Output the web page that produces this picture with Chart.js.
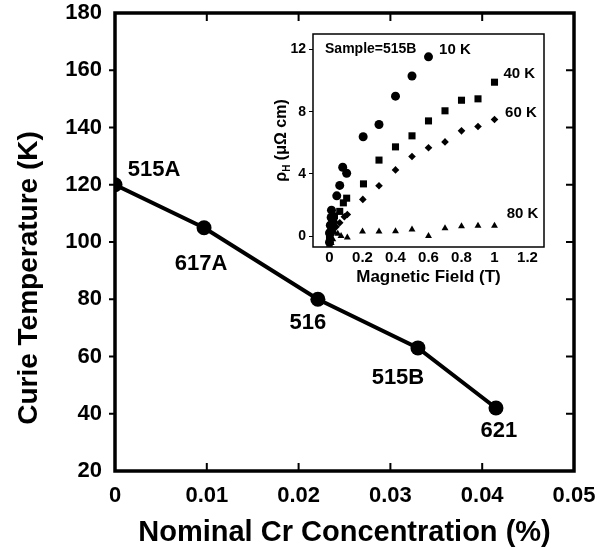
<!DOCTYPE html>
<html>
<head>
<meta charset="utf-8">
<script src="https://cdn.jsdelivr.net/npm/chart.js@4/dist/chart.umd.min.js"></script>
<style>
  body { margin: 0; background: #fff; }
  #wrap { position: relative; width: 610px; height: 550px; }
  #inset { position: absolute; left: 270px; top: 20px; }
</style>
</head>
<body>
<div id="wrap">
  <canvas id="mainChart" width="610" height="550"></canvas>
  <canvas id="inset" width="290" height="275"></canvas>
</div>
<script>
// main plot: Curie temperature vs Cr concentration
var concentration = [0, 0.0097, 0.0221, 0.0330, 0.0415];
var curieTemp = [120, 105, 80, 63, 42];
var sampleNames = ['515A', '617A', '516', '515B', '621'];
var concTicks = [0, 0.01, 0.02, 0.03, 0.04, 0.05];
var tempTicks = [20, 40, 60, 80, 100, 120, 140, 160, 180];

// inset: Hall resistivity of sample 515B vs field
var field10K = [0, 0, 0.005, 0.01, 0.012, 0.02, 0.044, 0.062, 0.08, 0.104, 0.204, 0.30, 0.40, 0.50, 0.60];
var rho10K   = [-0.4, 0.2, 0.7, 1.2, 1.67, 1.0, 2.59, 3.26, 4.43, 4.04, 6.39, 7.18, 9.0, 10.3, 11.53];
var field40K = [0, 0.005, 0.01, 0.02, 0.03, 0.062, 0.084, 0.104, 0.206, 0.30, 0.40, 0.50, 0.60, 0.70, 0.80, 0.90, 1.0];
var rho40K   = [-0.2, 0.2, 0.5, 1.0, 1.3, 1.59, 2.14, 2.44, 3.36, 4.89, 5.74, 6.45, 7.41, 8.06, 8.74, 8.83, 9.9];
var field60K = [0, 0.01, 0.02, 0.03, 0.04, 0.062, 0.09, 0.108, 0.202, 0.30, 0.40, 0.50, 0.60, 0.70, 0.80, 0.90, 1.0];
var rho60K   = [-0.3, 0.1, 0.4, 0.9, 0.6, 0.86, 1.25, 1.39, 2.36, 3.24, 4.26, 5.12, 5.68, 6.06, 6.77, 7.05, 7.5];
var field80K = [0, 0, 0.01, 0.02, 0.03, 0.05, 0.07, 0.108, 0.2, 0.3, 0.4, 0.5, 0.6, 0.7, 0.8, 0.9, 1.0];
var rho80K   = [-0.55, 0.1, -0.45, -0.2, 0.25, 0.15, 0.0, -0.09, 0.30, 0.30, 0.32, 0.43, 0.0, 0.51, 0.64, 0.66, 0.66];
var fieldTicks = [0, 0.2, 0.4, 0.6, 0.8, 1, 1.2];
var rhoTicks = [0, 4, 8, 12];

var FONT = "'Liberation Sans', Arial, Helvetica, sans-serif";
Chart.defaults.color = '#000';
Chart.defaults.font.family = FONT;
Chart.defaults.font.weight = 'bold';

function pairs(xs, ys) {
  return xs.map(function (x, i) { return {x: x, y: ys[i]}; });
}

// frame + tick marks + y title for the main plot
var mainFrame = {
  id: 'mainFrame',
  afterDraw: function (chart) {
    var ctx = chart.ctx, a = chart.chartArea;
    var xs = chart.scales.x, ys = chart.scales.y;
    ctx.save();
    ctx.strokeStyle = '#000';
    ctx.lineWidth = 2;
    ctx.beginPath();
    concTicks.slice(1, -1).forEach(function (v) {
      var px = xs.getPixelForValue(v);
      ctx.moveTo(px, a.bottom); ctx.lineTo(px, a.bottom - 8);
      ctx.moveTo(px, a.top); ctx.lineTo(px, a.top + 8);
    });
    tempTicks.slice(1, -1).forEach(function (v) {
      var py = ys.getPixelForValue(v);
      ctx.moveTo(a.left - 6, py); ctx.lineTo(a.left, py);
      ctx.moveTo(a.right, py); ctx.lineTo(a.right - 8, py);
    });
    ctx.stroke();
    ctx.lineWidth = 3.5;
    ctx.strokeRect(a.left, a.top, a.right - a.left, a.bottom - a.top);

    // y title sits a bit below the middle of the axis, as in the original
    ctx.fillStyle = '#000';
    ctx.font = 'bold 28px ' + FONT;
    ctx.textAlign = 'center';
    ctx.textBaseline = 'middle';
    ctx.translate(29, (a.top + a.bottom) / 2 + 36);
    ctx.rotate(-Math.PI / 2);
    ctx.fillText('Curie Temperature (K)', 0, 0);
    ctx.restore();
  }
};

var labelOffsets = [[39, -15], [-3, 36], [-10, 24], [-20, 30], [3, 23]];
var sampleLabels = {
  id: 'sampleLabels',
  afterDatasetsDraw: function (chart) {
    var ctx = chart.ctx;
    var pts = chart.getDatasetMeta(0).data;
    ctx.save();
    ctx.fillStyle = '#000';
    ctx.font = 'bold 22px ' + FONT;
    ctx.textAlign = 'center';
    ctx.textBaseline = 'middle';
    pts.forEach(function (p, i) {
      ctx.fillText(sampleNames[i], p.x + labelOffsets[i][0], p.y + labelOffsets[i][1]);
    });
    ctx.restore();
  }
};

new Chart(document.getElementById('mainChart'), {
  type: 'scatter',
  data: {
    datasets: [{
      data: pairs(concentration, curieTemp),
      showLine: true,
      borderColor: '#000',
      borderWidth: 4,
      backgroundColor: '#000',
      pointRadius: 7.5,
      pointBorderWidth: 0
    }]
  },
  options: {
    responsive: false,
    animation: false,
    devicePixelRatio: 1,
    layout: {padding: {top: 13, right: 36, left: 0, bottom: 0}},
    plugins: {legend: {display: false}, tooltip: {enabled: false}},
    scales: {
      x: {
        type: 'linear', min: 0, max: 0.05,
        afterBuildTicks: function (s) { s.ticks = concTicks.map(function (v) { return {value: v}; }); },
        afterFit: function (s) { s.height = 79; s.paddingLeft = 0; s.paddingRight = 0; },
        grid: {display: false, drawTicks: false},
        border: {display: false},
        ticks: {font: {size: 22, weight: 'bold'}, padding: 12, maxRotation: 0,
                callback: function (v) { return String(v); }},
        title: {display: true, text: 'Nominal Cr Concentration (%)',
                font: {size: 29, weight: 'bold'}, padding: {top: 0, bottom: 0}}
      },
      y: {
        type: 'linear', min: 20, max: 180,
        afterBuildTicks: function (s) { s.ticks = tempTicks.map(function (v) { return {value: v}; }); },
        afterFit: function (s) { s.width = 115; s.paddingTop = 0; s.paddingBottom = 0; },
        grid: {display: false, drawTicks: false},
        border: {display: false},
        ticks: {font: {size: 22, weight: 'bold'}, padding: 13}
      }
    }
  },
  plugins: [mainFrame, sampleLabels]
});

// inset decorations: frame, y title with subscript, curve labels
var insetTexts = [
  {text: 'Sample=515B', x: 0.25, y: 12.0, size: 14},
  {text: '10 K', x: 0.76, y: 12.0, size: 15},
  {text: '40 K', x: 1.15, y: 10.46, size: 15},
  {text: '60 K', x: 1.16, y: 7.9, size: 15},
  {text: '80 K', x: 1.17, y: 1.41, size: 15}
];
var insetDeco = {
  id: 'insetDeco',
  afterDraw: function (chart) {
    var ctx = chart.ctx, a = chart.chartArea;
    var xs = chart.scales.x, ys = chart.scales.y;
    ctx.save();
    ctx.strokeStyle = '#000';
    ctx.lineWidth = 1.5;
    ctx.strokeRect(a.left, a.top, a.right - a.left, a.bottom - a.top);

    ctx.fillStyle = '#000';
    ctx.textAlign = 'center';
    ctx.textBaseline = 'middle';
    insetTexts.forEach(function (t) {
      ctx.font = 'bold ' + t.size + 'px ' + FONT;
      ctx.fillText(t.text, xs.getPixelForValue(t.x), ys.getPixelForValue(t.y));
    });

    // rotated y title: rho_H (μΩ cm)
    var big = 'bold 16px ' + FONT, small = 'bold 10px ' + FONT;
    var p1 = 'ρ', p2 = 'H', p3 = ' (μΩ cm)';
    ctx.font = big; var w1 = ctx.measureText(p1).width, w3 = ctx.measureText(p3).width;
    ctx.font = small; var w2 = ctx.measureText(p2).width;
    var total = w1 + w2 + w3;
    ctx.translate(12, (a.top + a.bottom) / 2);
    ctx.rotate(-Math.PI / 2);
    ctx.textAlign = 'left';
    var sx = -total / 2;
    ctx.font = big; ctx.fillText(p1, sx, 0);
    ctx.font = small; ctx.fillText(p2, sx + w1, 5);
    ctx.font = big; ctx.fillText(p3, sx + w1 + w2, 0);
    ctx.restore();
  }
};

function series(xs, ys, style, r) {
  return {data: pairs(xs, ys), pointStyle: style, pointRadius: r,
          backgroundColor: '#000', borderColor: '#000', pointBorderWidth: 0, showLine: false};
}

new Chart(document.getElementById('inset'), {
  type: 'scatter',
  data: {
    datasets: [
      series(field10K, rho10K, 'circle', 4.5),
      series(field40K, rho40K, 'rect', 5),
      series(field60K, rho60K, 'rectRot', 3.8),
      series(field80K, rho80K, 'triangle', 4)
    ]
  },
  options: {
    responsive: false,
    animation: false,
    devicePixelRatio: 1,
    layout: {padding: {top: 14, right: 16, left: 0, bottom: 0}},
    plugins: {legend: {display: false}, tooltip: {enabled: false}},
    scales: {
      x: {
        type: 'linear', min: -0.1, max: 1.3,
        afterBuildTicks: function (s) { s.ticks = fieldTicks.map(function (v) { return {value: v}; }); },
        afterFit: function (s) { s.height = 48; },
        grid: {display: false, drawTicks: false},
        border: {display: false},
        ticks: {font: {size: 15, weight: 'bold'}, padding: 2, maxRotation: 0,
                callback: function (v) { return String(v); }},
        title: {display: true, text: 'Magnetic Field (T)',
                font: {size: 17, weight: 'bold'}, padding: {top: 0, bottom: 7}}
      },
      y: {
        type: 'linear', min: -0.7, max: 13,
        afterBuildTicks: function (s) { s.ticks = rhoTicks.map(function (v) { return {value: v}; }); },
        afterFit: function (s) { s.width = 43; },
        grid: {display: true, drawOnChartArea: false, drawTicks: true, tickLength: 4, color: '#000', lineWidth: 1},
        border: {display: false},
        ticks: {font: {size: 14, weight: 'bold'}, padding: 3}
      }
    }
  },
  plugins: [insetDeco]
});
</script>
</body>
</html>
